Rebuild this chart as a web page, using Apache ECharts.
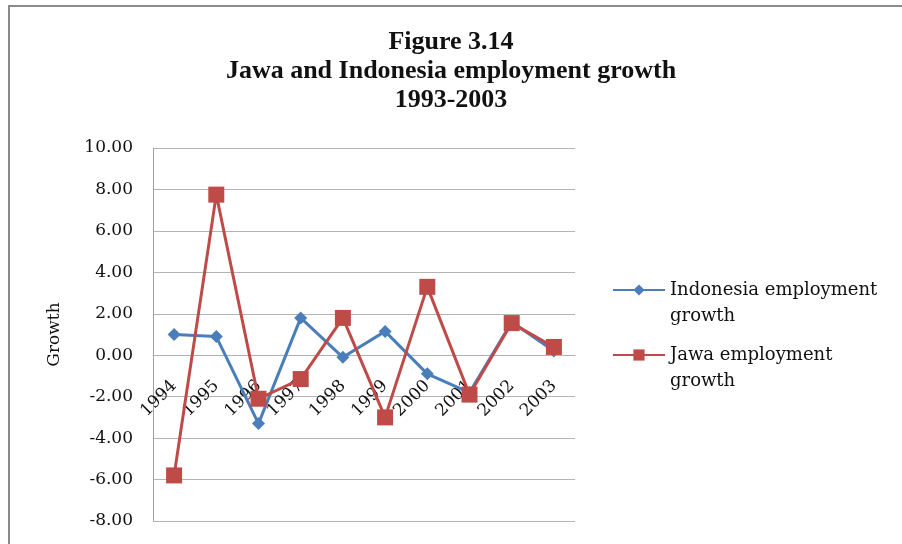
<!DOCTYPE html>
<html>
<head>
<meta charset="utf-8">
<script src="https://cdn.jsdelivr.net/npm/echarts@6/dist/echarts.min.js"></script>
<style>
  html, body { margin: 0; padding: 0; background: #fff; }
  #chart { width: 902px; height: 544px; }
</style>
</head>
<body>
<div id="chart"></div>
<script>
// Employment growth by year, Jawa vs Indonesia
const years = ['1994', '1995', '1996', '1997', '1998', '1999', '2000', '2001', '2002', '2003'];
const indonesiaGrowth = [1.0, 0.9, -3.3, 1.8, -0.1, 1.15, -0.9, -1.8, 1.6, 0.2];
const jawaGrowth = [-5.8, 7.75, -2.1, -1.15, 1.8, -3.0, 3.3, -1.9, 1.55, 0.4];
const yTicks = { min: -8, max: 10, interval: 2 };
const seriesNames = ['Indonesia employment\ngrowth', 'Jawa employment\ngrowth'];

const serif = '"DejaVu Serif", "Liberation Serif", serif';
const gridBox = { left: 153, right: 327, top: 148, bottom: 23 };
const plotHeight = 544 - gridBox.top - gridBox.bottom;
// lift the category axis up to the zero line of the value axis
const zeroLift = (0 - yTicks.min) / (yTicks.max - yTicks.min) * plotHeight;

const chart = echarts.init(document.getElementById('chart'));

chart.setOption({
  backgroundColor: '#ffffff',
  animation: false,
  title: {
    text: 'Figure 3.14\nJawa and Indonesia employment growth\n1993-2003',
    left: 'center',
    top: 23,
    textStyle: {
      fontFamily: '"Liberation Serif", serif',
      fontWeight: 'bold',
      fontSize: 26,
      lineHeight: 29,
      color: '#111'
    }
  },
  graphic: [
    { type: 'line', shape: { x1: 9, y1: 6, x2: 9, y2: 544 }, style: { stroke: '#8a8a8a', lineWidth: 2 } },
    { type: 'line', shape: { x1: 8, y1: 6, x2: 902, y2: 6 }, style: { stroke: '#8a8a8a', lineWidth: 2 } }
  ],
  legend: {
    orient: 'vertical',
    left: 607,
    top: 246,
    itemWidth: 52,
    itemHeight: 14,
    itemGap: -13,
    data: seriesNames,
    // leading blank line keeps the first text line level with the icon
    formatter: name => '\n' + name,
    textStyle: {
      fontFamily: serif,
      fontSize: 18,
      lineHeight: 26,
      color: '#111'
    }
  },
  grid: Object.assign({ containLabel: false, outerBoundsMode: 'none' }, gridBox),
  xAxis: {
    type: 'category',
    data: years,
    boundaryGap: true,
    offset: -zeroLift,
    axisLine: { onZero: false, lineStyle: { color: '#b0b0b0', width: 1 } },
    axisTick: { show: false },
    axisLabel: {
      rotate: 45,
      margin: 28,
      fontFamily: serif,
      fontSize: 17,
      color: '#111'
    }
  },
  yAxis: {
    type: 'value',
    min: yTicks.min,
    max: yTicks.max,
    interval: yTicks.interval,
    name: 'Growth',
    nameLocation: 'middle',
    nameRotate: 90,
    nameGap: 90,
    nameTextStyle: { fontFamily: serif, fontSize: 17, color: '#111' },
    axisLine: { show: true, lineStyle: { color: '#a0a0a0', width: 1 } },
    axisTick: { show: false },
    splitLine: { lineStyle: { color: '#b4b4b4', width: 1 } },
    axisLabel: {
      margin: 20,
      fontFamily: serif,
      fontSize: 17,
      color: '#111',
      formatter: v => v.toFixed(2)
    }
  },
  series: [
    {
      name: seriesNames[0],
      type: 'line',
      data: indonesiaGrowth,
      symbol: 'diamond',
      symbolSize: 13,
      lineStyle: { color: '#4a7ebb', width: 3 },
      itemStyle: { color: '#4a7ebb' },
      z: 2
    },
    {
      name: seriesNames[1],
      type: 'line',
      data: jawaGrowth,
      symbol: 'rect',
      symbolSize: 16,
      lineStyle: { color: '#be4b48', width: 3 },
      itemStyle: { color: '#be4b48' },
      z: 3
    }
  ]
});
</script>
</body>
</html>
